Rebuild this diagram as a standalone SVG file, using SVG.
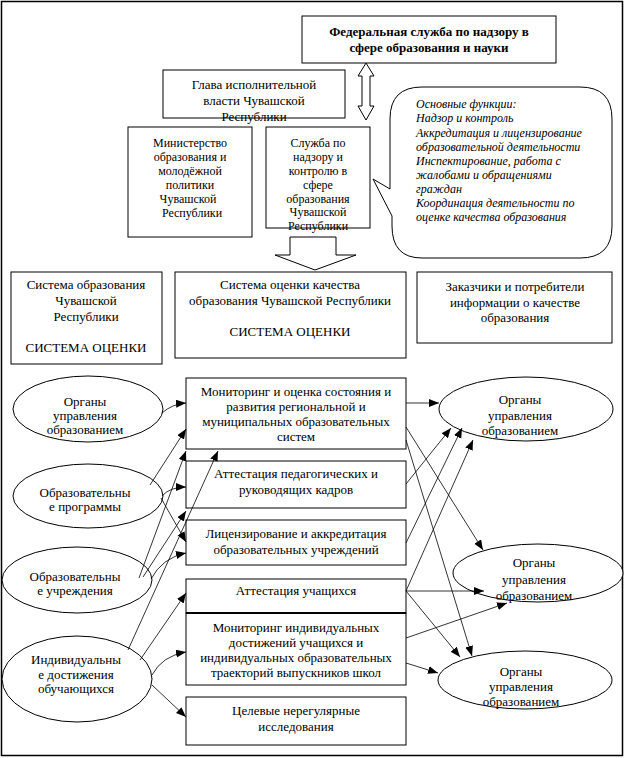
<svg xmlns="http://www.w3.org/2000/svg" width="625" height="758" viewBox="0 0 625 758" font-family="'Liberation Serif', 'DejaVu Serif', serif">
<style>
.b{fill:#fff;stroke:#000;stroke-width:1}
.t{font-family:'Liberation Serif','DejaVu Serif',serif;font-size:13px;fill:#000;text-anchor:middle}
.s{font-size:12px}
.bold{font-weight:bold;font-size:13px}
.it{font-family:'Liberation Serif','DejaVu Serif',serif;font-style:italic;font-size:12px;fill:#000}
.c{fill:none;stroke:#000;stroke-width:0.8}
</style>
<defs>
<marker id="ah" markerUnits="userSpaceOnUse" markerWidth="12" markerHeight="10" refX="10" refY="4" orient="auto">
<path d="M0,0 L10,4 L0,8 Z" fill="#000"/>
</marker>
</defs>
<rect x="1.5" y="1.5" width="621" height="754" fill="#fff" stroke="#000" stroke-width="1.5"/>

<g id="federal">
<rect class="b" x="302" y="16" width="254" height="47"/>
<text class="t bold" x="429" y="36">Федеральная служба по надзору в</text>
<text class="t bold" x="429" y="52">сфере образования и науки</text>
</g>
<g id="double-arrow">
<polygon class="b" points="366,63 374,76 370,76 370,106 374,106 366,120 358,106 362,106 362,76 358,76"/>
</g>
<g id="glava">
<rect class="b" x="163" y="70" width="182" height="48"/>
<text class="t" x="254" y="89">Глава исполнительной</text>
<text class="t" x="254" y="105">власти Чувашской</text>
<text class="t" x="254" y="121">Республики</text>
</g>
<g id="ministry">
<rect class="b" x="128" y="127" width="124" height="110"/>
<text class="t s" x="190" y="147">Министерство</text>
<text class="t s" x="190" y="161">образования и</text>
<text class="t s" x="190" y="175">молодёжной</text>
<text class="t s" x="190" y="189">политики</text>
<text class="t s" x="188" y="203">Чувашской</text>
<text class="t s" x="192" y="217">Республики</text>
</g>
<g id="service">
<rect class="b" x="266" y="127" width="104" height="101"/>
<text class="t s" x="318" y="147">Служба по</text>
<text class="t s" x="318" y="161">надзору и</text>
<text class="t s" x="318" y="175">контролю в</text>
<text class="t s" x="318" y="189">сфере</text>
<text class="t s" x="318" y="203">образования</text>
<text class="t s" x="318" y="216">Чувашской</text>
<text class="t s" x="318" y="230">Республики</text>
</g>
<g id="callout">
<path class="b" d="M422,87 H580 Q612,87 612,119 V226 Q612,258 580,258 H422 Q392,258 392,226 V216 L373,179 L390,189 V119 Q390,87 422,87 Z"/>
<text class="it" x="416" y="108">Основные функции:</text>
<text class="it" x="416" y="122">Надзор и контроль</text>
<text class="it" x="416" y="137">Аккредитация и лицензирование</text>
<text class="it" x="416" y="151">образовательной деятельности</text>
<text class="it" x="416" y="165">Инспектирование, работа с</text>
<text class="it" x="416" y="179">жалобами и обращениями</text>
<text class="it" x="416" y="193">граждан</text>
<text class="it" x="416" y="207">Координация деятельности по</text>
<text class="it" x="416" y="221">оценке качества образования</text>
</g>
<g id="down-arrow">
<polygon class="b" points="290,237 336,237 336,255 356,255 315,270 275,255 290,255"/>
</g>

<g id="sys-edu">
<rect class="b" x="11" y="272" width="151" height="92"/>
<text class="t" x="86" y="289">Система образования</text>
<text class="t" x="86" y="305">Чувашской</text>
<text class="t" x="86" y="321">Республики</text>
<text class="t" x="86" y="352">СИСТЕМА ОЦЕНКИ</text>
</g>
<g id="sys-quality">
<rect class="b" x="175" y="272" width="231" height="86"/>
<text class="t" x="290" y="289">Система оценки качества</text>
<text class="t" x="290" y="305">образования Чувашской Республики</text>
<text class="t" x="290" y="336">СИСТЕМА ОЦЕНКИ</text>
</g>
<g id="customers">
<rect class="b" x="417" y="272" width="195" height="71"/>
<text class="t" x="515" y="291">Заказчики и потребители</text>
<text class="t" x="515" y="307">информации о качестве</text>
<text class="t" x="515" y="322">образования</text>
</g>

<g id="e1">
<ellipse class="b" cx="88" cy="409" rx="75" ry="33"/>
<text class="t" x="85" y="406">Органы</text>
<text class="t" x="85" y="420">управления</text>
<text class="t" x="85" y="434">образованием</text>
</g>
<g id="e2">
<ellipse class="b" cx="88" cy="496" rx="75" ry="32"/>
<text class="t" x="85" y="497">Образовательны</text>
<text class="t" x="85" y="511">е программы</text>
</g>
<g id="e3">
<ellipse class="b" cx="77" cy="580" rx="75" ry="33"/>
<text class="t" x="75" y="581">Образовательны</text>
<text class="t" x="75" y="595">е учреждения</text>
</g>
<g id="e4">
<ellipse class="b" cx="77" cy="679" rx="75" ry="43"/>
<text class="t" x="76" y="664">Индивидуальны</text>
<text class="t" x="76" y="679">е достижения</text>
<text class="t" x="76" y="693">обучающихся</text>
</g>

<g id="m1">
<rect class="b" x="186" y="378" width="220" height="71"/>
<text class="t" x="296" y="396">Мониторинг и оценка состояния и</text>
<text class="t" x="296" y="411">развития региональной и</text>
<text class="t" x="296" y="426">муниципальных образовательных</text>
<text class="t" x="296" y="441">систем</text>
</g>
<g id="m2">
<rect class="b" x="186" y="461" width="220" height="47"/>
<text class="t" x="296" y="478">Аттестация педагогических и</text>
<text class="t" x="296" y="494">руководящих кадров</text>
</g>
<g id="m3">
<rect class="b" x="186" y="520" width="220" height="45"/>
<text class="t" x="296" y="538">Лицензирование и аккредитация</text>
<text class="t" x="296" y="554">образовательных учреждений</text>
</g>
<g id="m4">
<rect class="b" x="186" y="579" width="220" height="34"/>
<text class="t" x="296" y="595">Аттестация учащихся</text>
</g>
<g id="m5">
<rect class="b" x="186" y="613" width="220" height="72"/>
<line x1="186" y1="613" x2="406" y2="613" stroke="#000" stroke-width="2"/>
<text class="t" x="296" y="632">Мониторинг индивидуальных</text>
<text class="t" x="296" y="647">достижений учащихся и</text>
<text class="t" x="296" y="662">индивидуальных образовательных</text>
<text class="t" x="296" y="677">траекторий выпускников школ</text>
</g>
<g id="m6">
<rect class="b" x="186" y="697" width="220" height="48"/>
<text class="t" x="296" y="715">Целевые нерегулярные</text>
<text class="t" x="296" y="731">исследования</text>
</g>

<g id="r1">
<ellipse class="b" cx="526" cy="409" rx="87" ry="32"/>
<text class="t" x="520" y="404">Органы</text>
<text class="t" x="520" y="420">управления</text>
<text class="t" x="520" y="435">образованием</text>
</g>
<g id="r2">
<ellipse class="b" cx="538" cy="573" rx="85" ry="29"/>
<text class="t" x="534" y="567">Органы</text>
<text class="t" x="534" y="584">управления</text>
<text class="t" x="534" y="600">образованием</text>
</g>
<g id="r3">
<ellipse class="b" cx="525" cy="680" rx="87" ry="29"/>
<text class="t" x="521" y="676">Органы</text>
<text class="t" x="521" y="691">управления</text>
<text class="t" x="521" y="706">образованием</text>
</g>

<g id="connectors" class="c" marker-end="url(#ah)">
<path d="M162,413 Q172,404 186,403"/>
<path d="M150,485 L186,429"/>
<path d="M162,496 Q170,487 186,487"/>
<path d="M161,498 L186,542"/>
<path d="M139,578 L186,451"/>
<path d="M143,577 L186,511"/>
<path d="M151,579 Q162,558 186,553"/>
<path d="M128,650 L218,451"/>
<path d="M140,660 L186,593"/>
<path d="M152,675 Q162,656 186,652"/>
<path d="M152,685 L186,717"/>
<path d="M406,403 L439,403"/>
<path d="M406,484 L451,428"/>
<path d="M406,543 L462,428"/>
<path d="M406,591 L473,440"/>
<path d="M406,427 L483,550"/>
<path d="M406,440 L472,656"/>
<path d="M406,591 L484,591"/>
<path d="M406,591 L460,657"/>
<path d="M406,638 L507,603"/>
<path d="M406,663 L438,673"/>
</g>
</svg>
